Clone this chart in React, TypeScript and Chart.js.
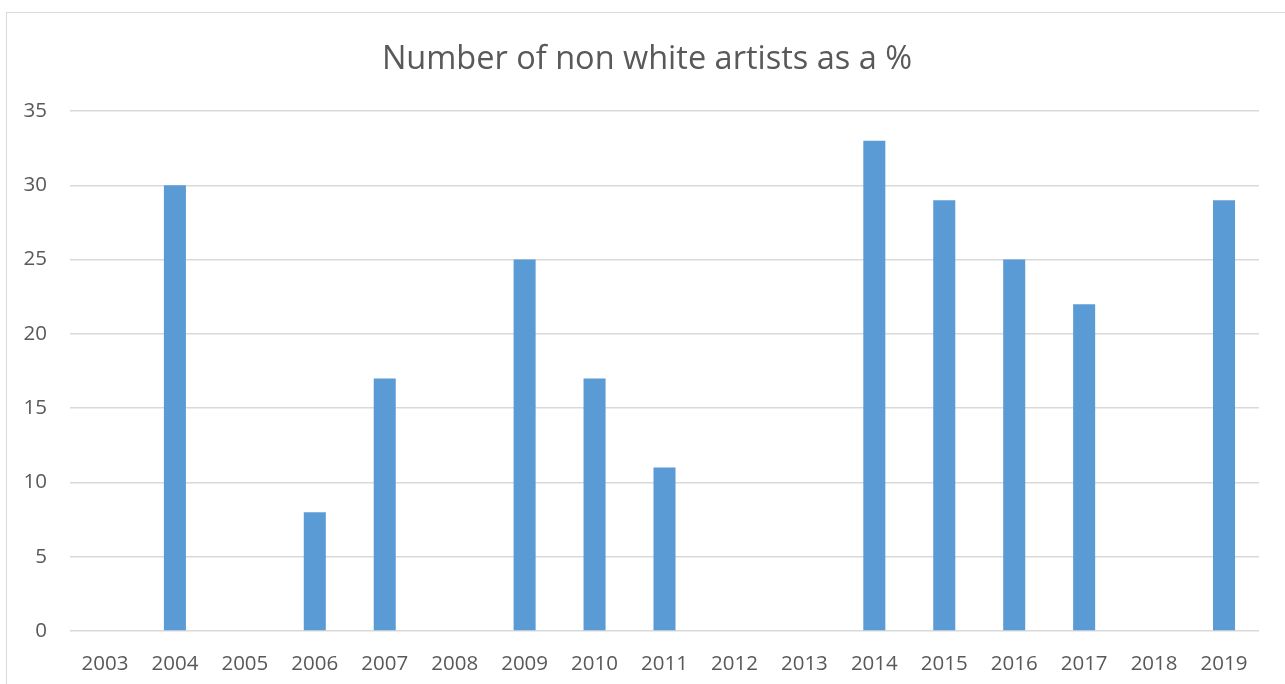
import React, { useEffect, useRef } from "react";
import { Chart, registerables } from "chart.js";

Chart.register(...registerables);

const categories = ["2003","2004","2005","2006","2007","2008","2009","2010","2011","2012","2013","2014","2015","2016","2017","2018","2019"];
const values = [0, 30, 0, 8, 17, 0, 25, 17, 11, 0, 0, 33, 29, 25, 22, 0, 29];
const yTicks = [0, 5, 10, 15, 20, 25, 30, 35];
const titleText = "Number of non white artists as a %";

const font = "'Open Sans', 'Liberation Sans', sans-serif";

export default function App() {
  const ref = useRef<HTMLCanvasElement | null>(null);
  useEffect(() => {
    if (!ref.current) return;
    const chart = new Chart(ref.current, {
      type: "bar",
      data: {
        labels: categories,
        datasets: [{
          data: values,
          backgroundColor: "#5b9bd5",
          categoryPercentage: 1,
          barPercentage: 0.315,
        }],
      },
      options: {
        responsive: false,
        animation: false,
        layout: { padding: { left: 0, right: 26, top: 111, bottom: 0 } },
        plugins: {
          legend: { display: false },
          tooltip: { enabled: false },
          title: { display: false },
        },
        scales: {
          x: {
            afterFit: (s: any) => { s.height = 53; },
            grid: { display: false },
            border: { display: false },
            ticks: { color: "#595959", font: { family: font, size: 20.5 }, padding: 13, maxRotation: 0, autoSkip: false },
          },
          y: {
            min: 0,
            max: 35,
            afterBuildTicks: (s: any) => { s.ticks = yTicks.map((v) => ({ value: v })); },
            afterFit: (s: any) => { s.width = 70; },
            grid: { color: "#d9d9d9", lineWidth: 1.5, drawTicks: false },
            border: { display: false },
            ticks: { color: "#595959", font: { family: font, size: 20.5 }, padding: 23 },
          },
        },
      },
    });
    return () => chart.destroy();
  }, []);
  return (
    <div style={{ position: "fixed", left: 0, top: 0, width: 1285, height: 684, overflow: "hidden", background: "#fff" }}>
      <div style={{ position: "absolute", left: 6, top: 12, width: 1400, height: 800, border: "1.5px solid #d9d9d9" }} />
      <canvas ref={ref} width={1285} height={684} style={{ position: "absolute", left: 0, top: 0 }} />
      <div style={{ position: "absolute", left: 0, width: 1294, top: 57, transform: "translateY(-50%)", textAlign: "center", fontFamily: font, fontSize: 32.5, lineHeight: "40px", color: "#595959", whiteSpace: "nowrap" }}>
        {titleText}
      </div>
    </div>
  );
}
